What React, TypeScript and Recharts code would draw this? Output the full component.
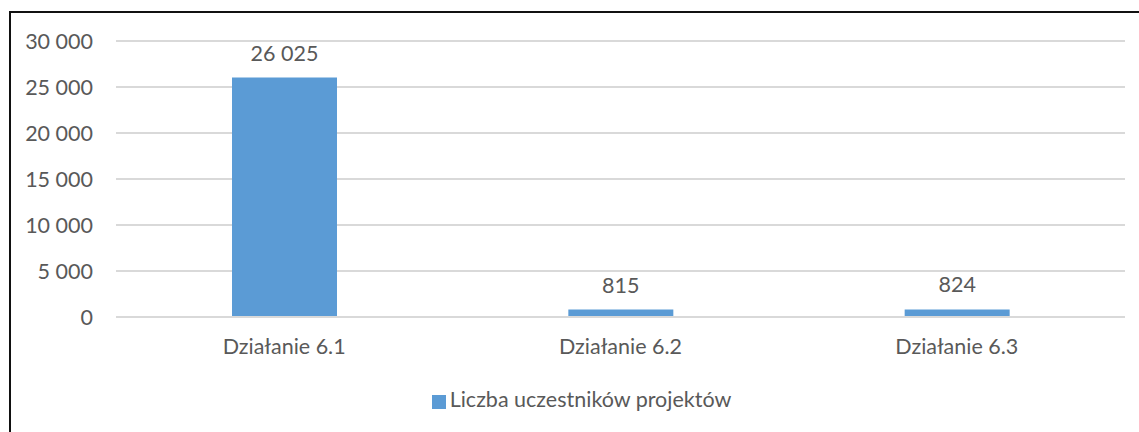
import React from 'react';
import { BarChart, Bar, XAxis, YAxis, CartesianGrid, Legend, LabelList } from 'recharts';

const categories = ['Działanie 6.1', 'Działanie 6.2', 'Działanie 6.3'];
const participants = [26025, 815, 824];
const yTicks = [0, 5000, 10000, 15000, 20000, 25000, 30000];
const seriesName = 'Liczba uczestników projektów';

const data = categories.map((c, i) => ({ name: c, value: participants[i] }));

const fmt = (v: number) => String(v).replace(/\B(?=(\d{3})+(?!\d))/g, ' ');

const FONT = 'Lato, "Open Sans", sans-serif';
const TEXT = '#595959';
const GRID = '#D9D9D9';
const BLUE = '#5B9BD5';
const FS = 21.5;

export default function App() {
  return (
    <div style={{ position: 'absolute', left: 0, top: 0, width: 1139, height: 432, background: '#fff', fontFamily: FONT }}>
      <div
        style={{
          position: 'absolute',
          left: 9,
          top: 11,
          width: 1130,
          height: 421,
          borderTop: '2px solid #111',
          borderLeft: '2px solid #111',
          boxSizing: 'border-box',
          pointerEvents: 'none',
        }}
      />
      <div style={{ position: 'absolute', left: 0, top: 0 }}>
        <BarChart
          width={1139}
          height={432}
          data={data}
          margin={{ top: 41, right: 14, bottom: 20, left: 0 }}
          barSize={105}
          style={{ fontFamily: FONT }}
        >
          <CartesianGrid vertical={false} stroke={GRID} strokeWidth={2} />
          <XAxis
            dataKey="name"
            height={69}
            tickLine={false}
            tickSize={0}
            tickMargin={22}
            axisLine={{ stroke: GRID, strokeWidth: 2 }}
            tick={{ fill: TEXT, fontSize: FS, fontFamily: FONT }}
          />
          <YAxis
            width={116}
            domain={[0, 30000]}
            ticks={yTicks}
            interval={0}
            axisLine={false}
            tickLine={false}
            tickSize={0}
            tickMargin={23}
            tickFormatter={fmt}
            tick={{ fill: TEXT, fontSize: FS, fontFamily: FONT }}
          />
          <Legend
            verticalAlign="bottom"
            align="center"
            iconType="square"
            iconSize={14}
            wrapperStyle={{ fontSize: FS, fontFamily: FONT, paddingLeft: 24 }}
            formatter={(v: string) => <span style={{ color: TEXT }}>{v}</span>}
          />
          <Bar dataKey="value" name={seriesName} fill={BLUE} isAnimationActive={false}>
            <LabelList
              dataKey="value"
              position="top"
              offset={17}
              formatter={(v: number) => fmt(v)}
              style={{ fill: TEXT, fontSize: FS, fontFamily: FONT }}
            />
          </Bar>
        </BarChart>
      </div>
    </div>
  );
}
